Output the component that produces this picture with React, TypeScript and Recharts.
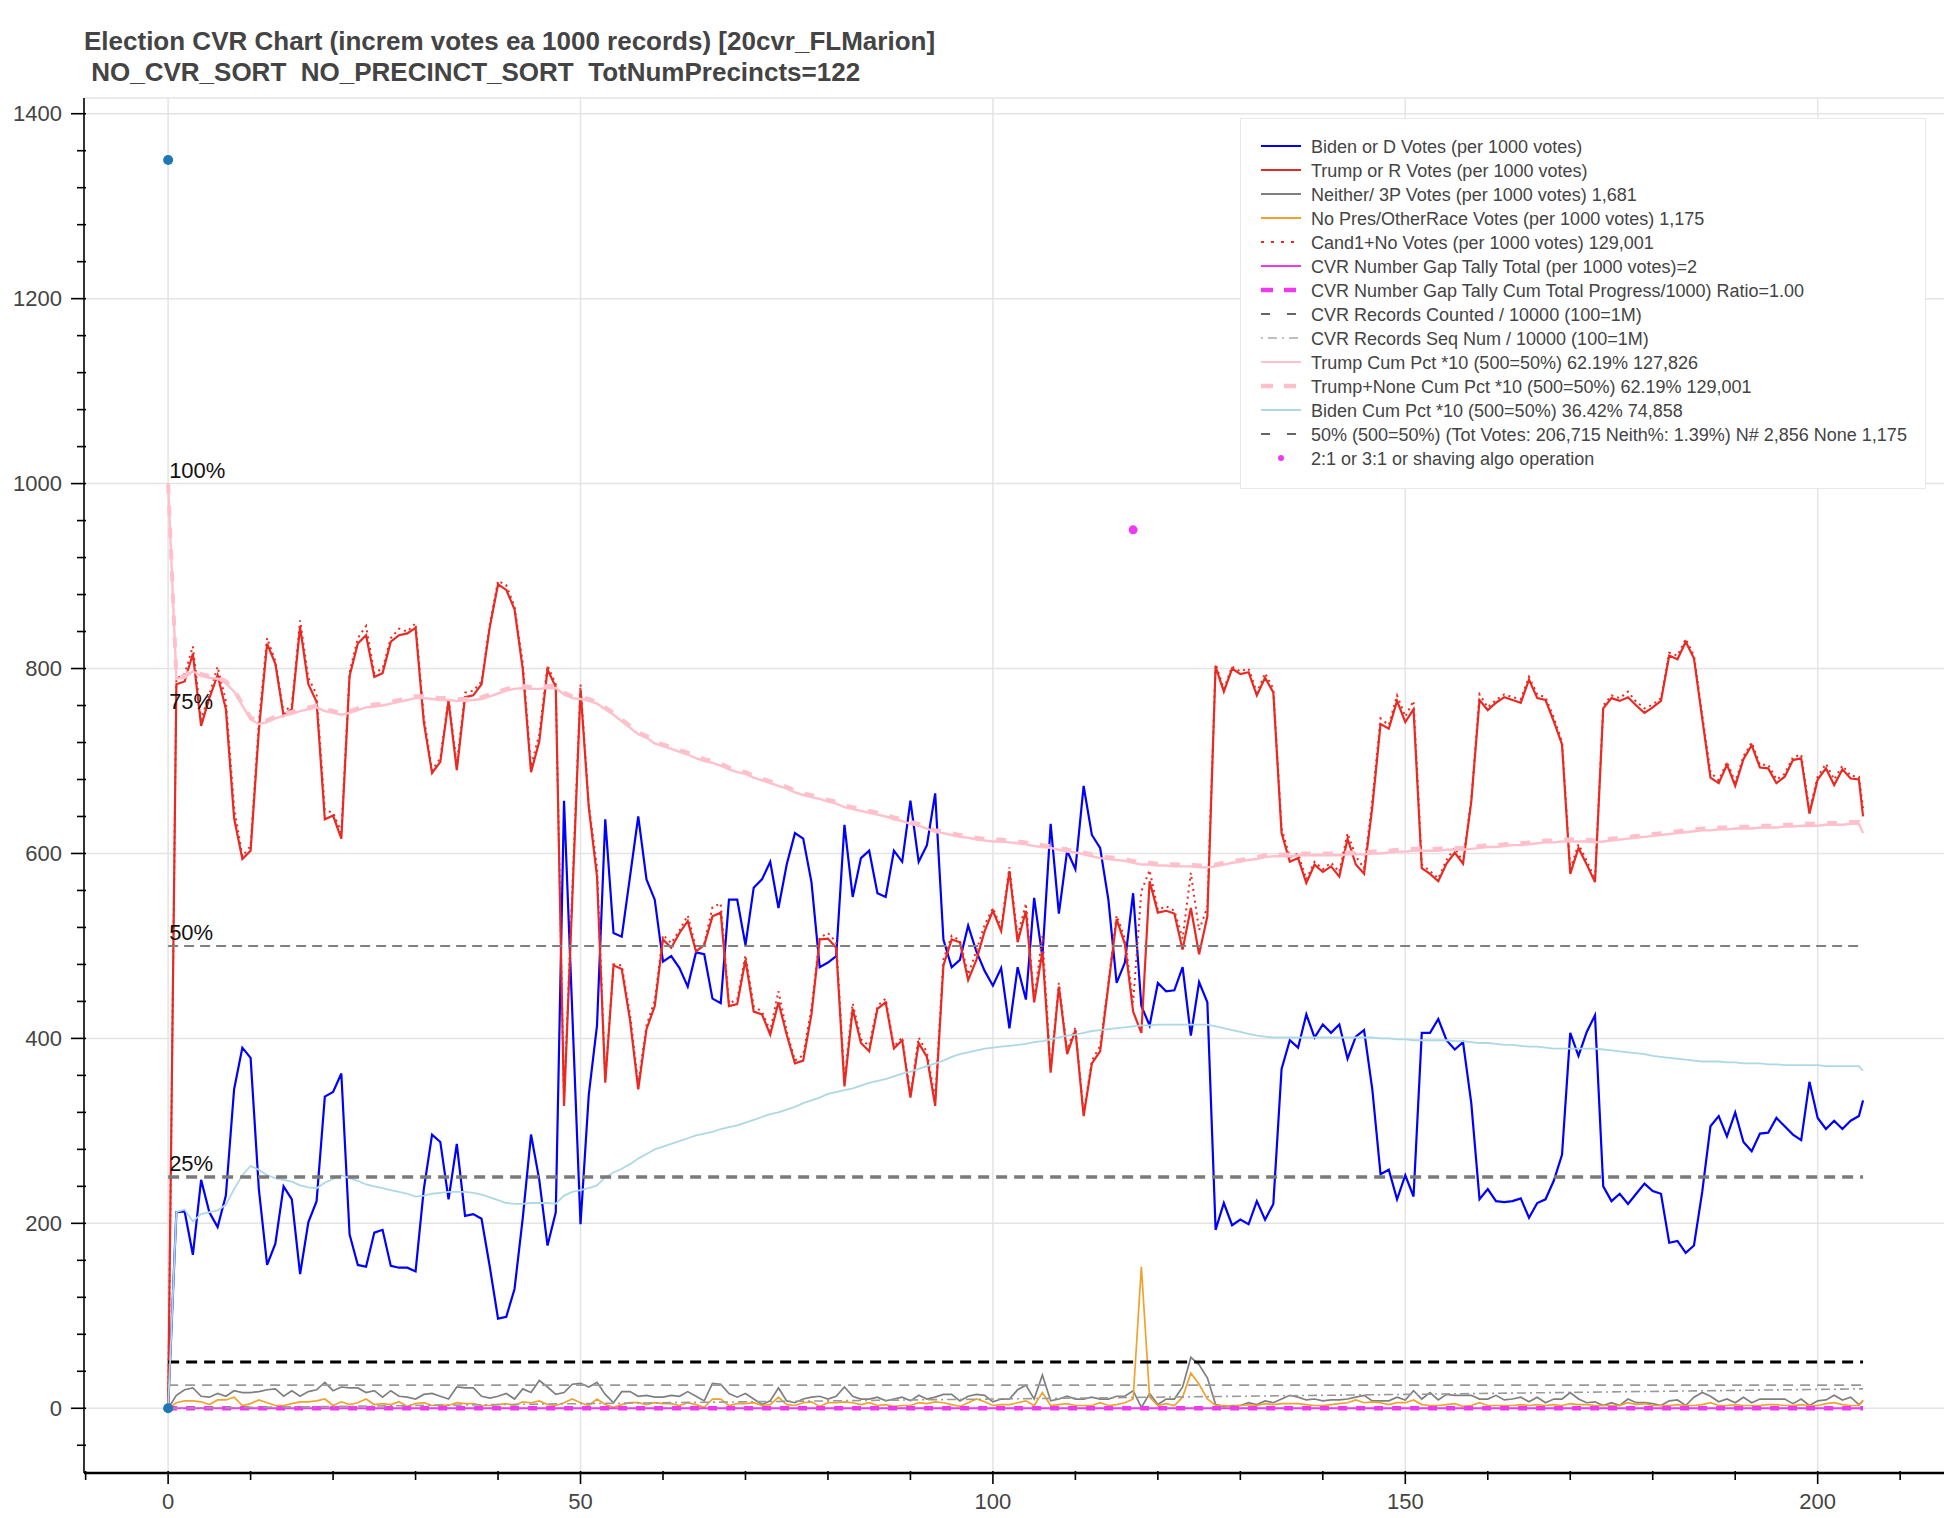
import React from 'react';
import { ComposedChart, Line, XAxis, YAxis, ReferenceLine, ReferenceDot } from 'recharts';

const FONT = '"Liberation Sans", Arial, Helvetica, sans-serif';

// x = vote block (1000 records each), last block is partial
const blockX = Array.from({ length: 206 }, (_, i) => i).concat([205.5]);

const bidenVotes = [0,
  212, 213, 166, 247, 212, 196, 230, 345, 390, 379,
  237, 155, 178, 240, 226, 145, 201, 224, 337, 342,
  362, 188, 155, 153, 190, 193, 154, 152, 152, 148,
  237, 296, 288, 226, 286, 208, 210, 205, 153, 97,
  99, 129, 206, 296, 247, 176, 212, 657, 428, 199,
  339, 414, 637, 514, 510, 575, 640, 572, 550, 483,
  489, 476, 456, 493, 491, 443, 438, 550, 550, 501,
  563, 572, 591, 541, 588, 622, 616, 569, 477, 482,
  489, 631, 553, 595, 603, 557, 553, 603, 591, 657,
  591, 609, 665, 507, 477, 485, 522, 494, 473, 457,
  476, 411, 477, 442, 552, 488, 632, 535, 603, 583,
  673, 620, 606, 550, 460, 482, 557, 435, 414, 460,
  451, 452, 477, 403, 461, 439, 193, 222, 198, 204,
  199, 224, 204, 221, 367, 398, 390, 426, 401, 415,
  406, 415, 378, 402, 409, 345, 253, 258, 226, 252,
  229, 406, 406, 421, 398, 388, 396, 330, 226, 237,
  224, 223, 224, 227, 206, 222, 226, 246, 274, 406,
  381, 407, 425, 240, 224, 232, 221, 232, 243, 235,
  232, 179, 181, 168, 176, 234, 305, 316, 294, 320,
  288, 278, 297, 298, 314, 305, 296, 290, 353, 314,
  302, 311, 302, 311, 316,
  333];

const trumpVotes = [0,
  783, 786, 816, 738, 768, 793, 756, 638, 594, 603,
  733, 827, 805, 749, 756, 845, 783, 764, 637, 641,
  616, 792, 827, 836, 791, 795, 829, 836, 838, 844,
  742, 687, 699, 765, 690, 769, 771, 783, 845, 891,
  885, 864, 799, 688, 721, 799, 780, 327, 550, 777,
  650, 575, 352, 479, 475, 420, 345, 410, 435, 507,
  498, 514, 527, 494, 501, 532, 536, 435, 437, 485,
  429, 426, 404, 439, 404, 373, 376, 426, 507, 508,
  498, 348, 432, 395, 386, 432, 439, 389, 398, 336,
  395, 380, 327, 479, 507, 504, 463, 485, 516, 538,
  516, 581, 504, 538, 439, 494, 363, 456, 383, 409,
  316, 373, 386, 457, 529, 502, 429, 406, 570, 536,
  538, 535, 496, 541, 491, 532, 802, 775, 800, 794,
  796, 771, 790, 774, 622, 591, 595, 568, 588, 580,
  586, 575, 616, 588, 578, 650, 740, 735, 765, 742,
  756, 584, 578, 570, 589, 601, 589, 656, 766, 755,
  763, 769, 766, 763, 788, 768, 766, 743, 718, 578,
  606, 588, 569, 757, 768, 765, 769, 760, 752, 758,
  765, 814, 810, 829, 811, 746, 682, 676, 696, 673,
  702, 717, 693, 692, 676, 683, 701, 703, 643, 680,
  692, 674, 691, 681, 680,
  640];

const neitherVotes = [0,
  14, 20, 22, 13, 12, 16, 13, 19, 17, 17,
  18, 20, 21, 13, 19, 13, 18, 20, 28, 19,
  23, 22, 22, 17, 19, 12, 19, 13, 12, 10,
  15, 16, 13, 10, 23, 22, 22, 13, 11, 13,
  16, 10, 21, 17, 30, 23, 15, 17, 26, 27,
  23, 28, 15, 6, 18, 18, 13, 14, 12, 12,
  14, 13, 18, 13, 8, 27, 26, 16, 12, 16,
  10, 4, 8, 22, 8, 6, 10, 12, 13, 10,
  13, 23, 13, 10, 10, 12, 8, 10, 12, 8,
  14, 10, 12, 15, 15, 8, 13, 15, 14, 7,
  10, 10, 20, 25, 10, 36, 8, 10, 13, 10,
  10, 12, 10, 10, 13, 13, 19, 1, 16, 4,
  10, 10, 23, 55, 47, 33, 4, 2, 3, 3,
  6, 4, 8, 6, 10, 14, 12, 9, 10, 8,
  9, 9, 10, 12, 14, 8, 8, 8, 12, 9,
  19, 10, 17, 9, 15, 14, 14, 14, 10, 10,
  14, 9, 10, 12, 7, 12, 6, 10, 10, 17,
  10, 6, 7, 3, 6, 3, 10, 6, 6, 5,
  3, 8, 9, 3, 12, 17, 13, 7, 10, 6,
  12, 6, 10, 10, 10, 10, 5, 10, 3, 8,
  9, 14, 9, 12, 4,
  8];

const noPresVotes = [0,
  6, 8, 8, 7, 4, 9, 9, 12, 3, 5,
  9, 6, 3, 3, 5, 7, 7, 8, 10, 3,
  7, 4, 6, 10, 4, 5, 4, 7, 2, 5,
  6, 3, 4, 3, 6, 5, 5, 3, 3, 4,
  5, 3, 7, 6, 8, 4, 3, 6, 10, 6,
  3, 10, 4, 1, 4, 6, 6, 4, 6, 5,
  5, 3, 6, 4, 1, 10, 10, 3, 5, 5,
  6, 3, 4, 12, 4, 3, 6, 7, 2, 6,
  6, 7, 6, 4, 6, 3, 4, 2, 3, 3,
  6, 5, 7, 6, 4, 2, 6, 10, 7, 3,
  4, 4, 6, 8, 3, 17, 3, 4, 5, 3,
  3, 3, 6, 3, 4, 6, 10, 153, 12, 3,
  5, 3, 12, 38, 26, 10, 3, 3, 2, 3,
  4, 3, 5, 4, 5, 5, 5, 4, 3, 3,
  4, 5, 6, 9, 6, 7, 6, 4, 6, 6,
  9, 4, 3, 3, 4, 5, 2, 3, 6, 3,
  3, 3, 3, 4, 3, 4, 3, 4, 3, 5,
  4, 4, 3, 3, 3, 3, 6, 4, 5, 3,
  3, 3, 4, 3, 3, 4, 6, 3, 3, 4,
  3, 3, 3, 4, 4, 3, 3, 4, 3, 3,
  5, 6, 4, 3, 3,
  9];

const cand1NoVotes = [0,
  789, 794, 824, 745, 772, 802, 765, 650, 597, 608,
  742, 833, 808, 752, 761, 852, 790, 772, 647, 644,
  623, 796, 833, 846, 795, 800, 833, 843, 840, 849,
  748, 690, 703, 768, 696, 774, 776, 786, 848, 895,
  890, 867, 806, 694, 729, 803, 783, 333, 560, 783,
  653, 585, 356, 480, 479, 426, 351, 414, 441, 512,
  503, 517, 533, 498, 502, 542, 546, 438, 442, 490,
  435, 429, 408, 451, 408, 376, 382, 433, 509, 514,
  504, 355, 438, 399, 392, 435, 443, 391, 401, 339,
  401, 385, 334, 485, 511, 506, 469, 495, 523, 541,
  520, 585, 510, 546, 442, 511, 366, 460, 388, 412,
  319, 376, 392, 460, 533, 508, 439, 559, 582, 539,
  543, 538, 508, 579, 517, 542, 805, 778, 802, 797,
  800, 774, 795, 778, 627, 596, 600, 572, 591, 583,
  590, 580, 622, 597, 584, 657, 746, 739, 771, 748,
  765, 588, 581, 573, 593, 606, 591, 659, 772, 758,
  766, 772, 769, 767, 791, 772, 769, 747, 721, 583,
  610, 592, 572, 760, 771, 768, 775, 764, 757, 761,
  768, 817, 814, 832, 814, 750, 688, 679, 699, 677,
  705, 720, 696, 696, 680, 686, 704, 707, 646, 683,
  697, 680, 695, 684, 683,
  649];

const trumpCumPct = [1000,
  789, 790, 797, 792, 790, 789, 784, 775, 760, 745,
  740, 742, 746, 749, 751, 754, 756, 758, 754, 752,
  750, 752, 755, 758, 759, 760, 762, 764, 766, 768,
  768, 767, 766, 766, 765, 765, 766, 767, 770, 773,
  776, 778, 779, 778, 778, 779, 779, 772, 768, 767,
  765, 762, 756, 750, 743, 736, 729, 725, 719, 716,
  713, 710, 707, 703, 700, 698, 695, 691, 688, 686,
  682, 679, 676, 673, 670, 666, 663, 661, 659, 656,
  654, 650, 648, 646, 644, 642, 640, 637, 635, 632,
  630, 627, 623, 622, 620, 618, 617, 615, 614, 613,
  613, 612, 611, 610, 608, 607, 606, 604, 602, 601,
  599, 597, 595, 594, 593, 592, 590, 588, 588, 587,
  587, 586, 586, 586, 585, 585, 586, 588, 590, 591,
  593, 594, 596, 597, 597, 597, 598, 598, 598, 598,
  598, 598, 599, 599, 599, 600, 600, 601, 602, 602,
  603, 603, 603, 603, 604, 604, 604, 605, 606, 607,
  607, 608, 609, 609, 610, 611, 612, 612, 613, 613,
  613, 613, 612, 613, 614, 615, 616, 617, 618, 619,
  620, 621, 622, 623, 624, 625, 625, 626, 626, 627,
  627, 627, 628, 628, 628, 629, 629, 630, 630, 630,
  631, 631, 631, 632, 632,
  622];

const trumpNoneCumPct = [1000,
  791, 792, 799, 794, 792, 791, 786, 777, 762, 747,
  742, 744, 748, 751, 753, 756, 758, 760, 756, 754,
  752, 754, 757, 760, 761, 762, 764, 766, 768, 770,
  770, 769, 768, 768, 767, 767, 768, 769, 772, 775,
  778, 780, 781, 780, 780, 781, 781, 774, 770, 769,
  767, 764, 758, 752, 745, 738, 731, 727, 721, 718,
  715, 712, 709, 705, 702, 700, 697, 693, 690, 688,
  684, 681, 678, 675, 672, 668, 665, 663, 661, 658,
  656, 652, 650, 648, 646, 644, 642, 639, 637, 634,
  632, 629, 625, 624, 622, 620, 619, 617, 616, 615,
  615, 614, 613, 612, 610, 609, 608, 606, 604, 603,
  601, 599, 597, 596, 595, 594, 592, 590, 590, 589,
  589, 588, 588, 588, 587, 587, 588, 590, 592, 593,
  595, 596, 598, 599, 599, 599, 600, 600, 600, 600,
  600, 600, 601, 601, 601, 602, 602, 603, 604, 604,
  605, 605, 605, 605, 606, 606, 606, 607, 608, 609,
  609, 610, 611, 611, 612, 613, 614, 614, 615, 615,
  615, 615, 614, 615, 616, 617, 618, 619, 620, 621,
  622, 623, 624, 625, 626, 627, 627, 628, 628, 629,
  629, 629, 630, 630, 630, 631, 631, 632, 632, 632,
  633, 633, 633, 634, 634,
  628];

const bidenCumPct = [0,
  212, 215, 202, 210, 212, 214, 220, 237, 252, 262,
  258, 252, 249, 247, 245, 241, 239, 238, 244, 248,
  252, 249, 246, 242, 240, 238, 236, 234, 232, 229,
  230, 232, 233, 234, 234, 234, 233, 231, 228, 225,
  222, 221, 221, 222, 222, 222, 221, 230, 234, 236,
  238, 241, 250, 255, 259, 264, 270, 275, 280, 283,
  286, 289, 292, 295, 297, 299, 302, 304, 306, 309,
  312, 315, 318, 320, 323, 326, 330, 333, 336, 340,
  342, 344, 346, 349, 352, 354, 356, 359, 362, 364,
  367, 370, 373, 376, 380, 383, 385, 387, 389, 390,
  391, 392, 393, 394, 396, 397, 399, 401, 403, 404,
  406, 408, 409, 410, 411, 412, 413, 414, 414, 415,
  415, 415, 415, 415, 415, 415, 413, 411, 409, 407,
  405, 403, 402, 401, 401, 401, 401, 401, 401, 401,
  401, 401, 401, 401, 401, 401, 400, 400, 399, 399,
  398, 398, 398, 398, 398, 397, 397, 396, 395, 395,
  394, 393, 393, 392, 391, 391, 390, 389, 389, 389,
  389, 389, 389, 388, 387, 386, 385, 384, 383, 381,
  380, 379, 378, 377, 376, 375, 375, 375, 374, 374,
  373, 373, 373, 372, 372, 371, 371, 371, 371, 371,
  370, 370, 370, 370, 370,
  365];

// CVR record sequence number / 10000, read at a few blocks
const seqNumX = [0, 50, 100, 150, 205.5];
const seqNumY = [0, 5, 10, 15, 21];

// flat levels
const halfLevel = 500;
const quarterLevel = 250;
const recordsCountedLevel = 50;
const recordsSeqLevel = 25;
const gapTallyLevel = 0;

const pctLevels = [1000, 750, 500, 250];
const pctLabels = ['100%', '75%', '50%', '25%'];

const startDotY = [1350, 0];
const algoDotX = [117];
const algoDotY = [950];

const xMajor = [0, 50, 100, 150, 200];
const xTicks = [-10, 0, 10, 20, 30, 40, 50, 60, 70, 80, 90, 100, 110, 120, 130, 140, 150, 160, 170, 180, 190, 200, 210];
const yMajor = [0, 200, 400, 600, 800, 1000, 1200, 1400];
const yTicks = Array.from({ length: 37 }, (_, i) => -40 + i * 40);
const yTop = 1417;

const chartData = blockX.map((x, i) => {
  const s = seqNumX.indexOf(x);
  return {
    x,
    biden: bidenVotes[i],
    trump: trumpVotes[i],
    neither: neitherVotes[i],
    noPres: noPresVotes[i],
    cand1No: cand1NoVotes[i],
    seqNum: s >= 0 ? seqNumY[s] : null,
    trumpCum: trumpCumPct[i],
    trumpNoneCum: trumpNoneCumPct[i],
    bidenCum: bidenCumPct[i],
  };
});

const xFirst = blockX[0];
const xLast = blockX[blockX.length - 1];
const flat = (y: number) => [{ x: xFirst, y }, { x: xLast, y }];

const RED = '#ea2a22';
const MAGENTA = '#ee3aee';
const GRID = '#e4e4e4';

const legendItems = [
  { label: 'Biden or D Votes (per 1000 votes)', color: 'blue', width: 2.2 },
  { label: 'Trump or R Votes (per 1000 votes)', color: RED, width: 2.2 },
  { label: 'Neither/ 3P Votes (per 1000 votes) 1,681', color: '#7f7f7f', width: 2 },
  { label: 'No Pres/OtherRace Votes (per 1000 votes) 1,175', color: '#f0a22e', width: 2 },
  { label: 'Cand1+No Votes (per 1000 votes) 129,001', color: RED, width: 2, dash: '3 7' },
  { label: 'CVR Number Gap Tally Total (per 1000 votes)=2', color: MAGENTA, width: 2.2 },
  { label: 'CVR Number Gap Tally Cum Total Progress/1000) Ratio=1.00', color: MAGENTA, width: 4.5, dash: '12 11' },
  { label: 'CVR Records Counted / 10000 (100=1M)', color: '#666', width: 2, dash: '9 17' },
  { label: 'CVR Records Seq Num / 10000 (100=1M)', color: '#aaa', width: 1.5, dash: '2 5 9 5' },
  { label: 'Trump Cum Pct *10 (500=50%) 62.19% 127,826', color: 'pink', width: 2.2 },
  { label: 'Trump+None Cum Pct *10 (500=50%) 62.19% 129,001', color: 'pink', width: 4.5, dash: '12 11' },
  { label: 'Biden Cum Pct *10 (500=50%) 36.42% 74,858', color: 'lightblue', width: 2.2 },
  { label: '50% (500=50%) (Tot Votes: 206,715 Neith%: 1.39%) N# 2,856 None 1,175', color: '#666', width: 2, dash: '9 17' },
  { label: '2:1 or 3:1 or shaving algo operation', color: MAGENTA, dot: true },
];

const XTick = (props: any) => {
  const { x, y, payload } = props;
  const major = xMajor.includes(payload.value);
  return (
    <g>
      <line x1={x} y1={y - 2} x2={x} y2={y + (major ? 11 : 7)} stroke="#000" strokeWidth={1.6} />
      {major && (
        <text x={x} y={y + 28} textAnchor="middle" dominantBaseline="central" fontSize={22} fill="#444" fontFamily={FONT}>
          {payload.value}
        </text>
      )}
    </g>
  );
};

const YTick = (props: any) => {
  const { x, y, payload } = props;
  const major = yMajor.includes(payload.value);
  return (
    <g>
      <line x1={x + 2} y1={y} x2={x - (major ? 13 : 7)} y2={y} stroke="#000" strokeWidth={1.6} />
      {major && (
        <text x={x - 22} y={y} textAnchor="end" dominantBaseline="central" fontSize={22} fill="#444" fontFamily={FONT}>
          {payload.value}
        </text>
      )}
    </g>
  );
};

const PctLabel = (text: string) => (props: any) => (
  <text x={props.cx + 1} y={props.cy - 6} fontSize={22} fill="#111" fontFamily={FONT}>
    {text}
  </text>
);

function LegendBox() {
  return (
    <div
      style={{
        position: 'absolute',
        left: 1240,
        top: 118,
        width: 686,
        height: 371,
        boxSizing: 'border-box',
        background: '#fff',
        border: '1.5px solid #e8e8e8',
        paddingTop: 16,
        paddingLeft: 20,
        fontFamily: FONT,
        fontSize: 18,
        color: '#444',
      }}
    >
      {legendItems.map((it) => (
        <div key={it.label} style={{ display: 'flex', alignItems: 'center', height: 24, whiteSpace: 'nowrap' }}>
          <svg width={40} height={24} style={{ marginRight: 10, flex: 'none' }}>
            {it.dot ? (
              <circle cx={20} cy={11} r={3} fill={it.color} />
            ) : (
              <line x1={0} y1={11} x2={40} y2={11} stroke={it.color} strokeWidth={it.width} strokeDasharray={it.dash} />
            )}
          </svg>
          <span>{it.label}</span>
        </div>
      ))}
    </div>
  );
}

export default function App() {
  return (
    <div style={{ position: 'absolute', left: 0, top: 0, width: 1944, height: 1518, overflow: 'hidden', background: '#fff' }}>
      <div
        style={{
          position: 'absolute',
          left: 84,
          top: 26,
          fontFamily: FONT,
          fontWeight: 'bold',
          fontSize: 26,
          lineHeight: '31px',
          color: '#444',
          whiteSpace: 'pre',
        }}
      >
        {'Election CVR Chart (increm votes ea 1000 records) [20cvr_FLMarion]\n NO_CVR_SORT  NO_PRECINCT_SORT  TotNumPrecincts=122'}
      </div>
      <div style={{ position: 'absolute', left: 0, top: 0 }}>
        <ComposedChart width={1960} height={1518} data={chartData} margin={{ top: 98, right: 12, bottom: 0, left: 0 }}>
          <XAxis
            type="number"
            dataKey="x"
            domain={[-10.2, 215.8]}
            allowDataOverflow
            ticks={xTicks}
            interval={0}
            tick={XTick}
            tickLine={false}
            tickSize={0}
            tickMargin={0}
            axisLine={{ stroke: '#000', strokeWidth: 2.5 }}
            height={45}
          />
          <YAxis
            type="number"
            domain={[-70, yTop]}
            allowDataOverflow
            ticks={yTicks}
            interval={0}
            tick={YTick}
            tickLine={false}
            tickSize={0}
            tickMargin={0}
            axisLine={{ stroke: '#000', strokeWidth: 1.6 }}
            width={84}
          />
          {xMajor.map((v) => (
            <ReferenceLine key={'gx' + v} x={v} stroke={GRID} strokeWidth={1.5} />
          ))}
          {yMajor.map((v) => (
            <ReferenceLine key={'gy' + v} y={v} stroke={GRID} strokeWidth={1.5} />
          ))}
          <ReferenceLine y={yTop} stroke={GRID} strokeWidth={1.5} />

          <Line dataKey="biden" stroke="blue" strokeWidth={2.2} dot={false} isAnimationActive={false} />
          <Line dataKey="trump" stroke={RED} strokeWidth={2.2} dot={false} isAnimationActive={false} />
          <Line dataKey="neither" stroke="#7f7f7f" strokeWidth={1.7} dot={false} isAnimationActive={false} />
          <Line dataKey="noPres" stroke="#f0a22e" strokeWidth={1.7} dot={false} isAnimationActive={false} />
          <Line dataKey="cand1No" stroke={RED} strokeWidth={2} strokeDasharray="2 4" dot={false} isAnimationActive={false} />

          <ReferenceLine segment={flat(gapTallyLevel)} stroke={MAGENTA} strokeWidth={2} />
          <ReferenceLine segment={flat(gapTallyLevel)} stroke={MAGENTA} strokeWidth={4.5} strokeDasharray="9 9" />
          <ReferenceLine segment={flat(recordsCountedLevel)} stroke="#000" strokeWidth={3} strokeDasharray="11 7" />
          <ReferenceLine segment={flat(recordsSeqLevel)} stroke="#999" strokeWidth={1.6} strokeDasharray="10 7" />
          <Line dataKey="seqNum" stroke="#9a9a9a" strokeWidth={1.6} strokeDasharray="9 4 2 4" connectNulls dot={false} isAnimationActive={false} />

          <Line dataKey="trumpCum" stroke="pink" strokeWidth={2.4} dot={false} isAnimationActive={false} />
          <Line dataKey="trumpNoneCum" stroke="pink" strokeWidth={4} strokeDasharray="10 12" dot={false} isAnimationActive={false} />
          <Line dataKey="bidenCum" stroke="lightblue" strokeWidth={1.8} dot={false} isAnimationActive={false} />

          <ReferenceLine segment={flat(halfLevel)} stroke="#808080" strokeWidth={2} strokeDasharray="10 6" />
          <ReferenceLine segment={flat(quarterLevel)} stroke="#7a7a7a" strokeWidth={3.5} strokeDasharray="11 7" />

          {pctLevels.map((v, i) => (
            <ReferenceDot key={pctLabels[i]} x={0} y={v} r={1} shape={PctLabel(pctLabels[i])} />
          ))}
          {startDotY.map((v) => (
            <ReferenceDot key={'s' + v} x={0} y={v} r={5} fill="#1f77b4" stroke="none" />
          ))}
          {algoDotX.map((v, i) => (
            <ReferenceDot key={'a' + v} x={v} y={algoDotY[i]} r={4.5} fill={MAGENTA} stroke="none" />
          ))}
        </ComposedChart>
      </div>
      <LegendBox />
    </div>
  );
}
